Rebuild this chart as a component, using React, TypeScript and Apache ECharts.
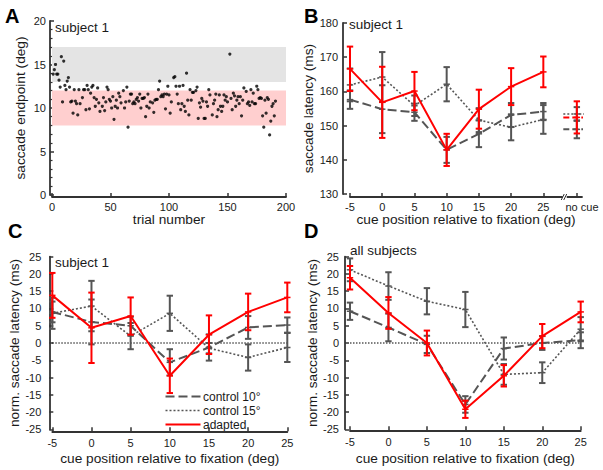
import React, { useEffect, useRef } from "react";
import * as echarts from "echarts";

const FONT = '"Liberation Sans", Arial, Helvetica, sans-serif';
const AXIS = "#333333";
const TEXT = "#1a1a1a";
const GRAY = "#555555";
const RED = "#ff0000";

// ---------- Panel A: saccade endpoints per trial ----------
const trials = [1,2,3,4,5,6,7,8,9,10, 11,12,13,14,15,16,17,18,19,20, 21,22,23,24,26,27,28,29,30,31, 32,33,34,35,36,37,38,39,40,41, 43,44,45,46,47,48,49,50,51,52, 53,54,55,56,57,58,59,61,62,63, 64,65,66,67,68,69,70,71,72,73, 74,75,76,77,78,79,80,81,82,83, 84,86,87,88,89,90,91,92,93,94, 95,96,97,98,99,100,101,102,104,105, 106,107,108,109,110,111,112,113,114,115, 116,117,118,119,120,121,123,124,125,126, 127,128,129,130,131,132,133,134,135,137, 138,139,140,141,142,143,144,145,146,147, 148,149,150,152,153,154,155,156,157,158, 159,160,161,162,163,164,166,167,168,169, 170,171,172,173,174,175,176,177,178,179, 180,181,182,183,184,185,186,187,188,189, 190,191];
const endpoints = [13.9,14.4,15.0,13.9,13.9,13.2,12.4,15.9,10.7,15.4, 12.6,12.1,13.1,13.5,12.4,10.7,10.8,9.4,12.1,10.8, 10.5,9.2,12.1,10.5,11.2,12.1,12.1,9.8,12.6,12.1, 9.9,11.7,12.4,12.6,11.2,10.2,11.0,12.3,10.6,9.6, 10.2,11.2,9.7,10.7,12.4,12.1,11.0,10.8,10.0,11.3, 8.7,10.2,10.9,10.0,11.7,11.3,10.6,12.0,10.0,10.7, 12.4,7.8,10.8,11.6,11.6,10.5,10.7,10.5,11.0,11.2, 10.8,11.6,10.0,11.1,11.1,11.2,9.0,10.2,11.6,10.0, 10.7,10.6,9.5,10.9,11.0,11.0,12.1,13.1,11.3,11.5, 11.3,11.6,9.9,11.6,12.5,11.5,9.4,10.7,13.5,13.6, 12.5,11.6,10.5,12.5,9.8,10.5,12.6,10.2,9.6,14.0, 10.9,9.2,12.1,10.9,11.8,11.8,12.0,12.4,8.8,10.6, 10.1,11.1,10.8,8.8,8.8,10.7,10.2,12.1,11.5,9.2, 10.5,10.9,11.6,9.0,9.8,11.5,10.2,9.6,10.2,11.5, 10.9,11.3,10.7,16.2,11.1,9.8,11.7,11.4,10.2,10.9, 11.3,10.5,11.3,9.1,10.9,12.3,11.9,10.5,10.7,10.3, 12.1,10.7,11.7,10.5,10.5,12.5,12.1,11.1,11.2,11.1, 9.1,7.8,10.9,9.4,11.2,11.0,6.9,8.5,10.2,10.5, 9.1,10.8];
const grayBand = [13, 17];
const pinkBand = [8, 12];

// ---------- Panels B-D: latency vs cue position ----------
const cuePositions = [-5, 0, 5, 10, 15, 20, 25];
const cueTickLabels = ["-5", "0", "5", "10", "15", "20", "25"];

const bAdapted = [166.6, 156.8, 160.1, 142.9, 154.8, 161.4, 165.7];
const bAdaptedErr = [6.5, 10.4, 5.6, 4.7, 5.7, 5.4, 4.5];
const bControl10 = [157.6, 154.8, 153.9, 142.9, 147.6, 153.1, 154.1];
const bControl10Err = [2.7, 7.0, 2.5, 3.8, 3.9, 3.5, 2.5];
const bControl15 = [161.9, 164.2, 155.8, 162.1, 151.6, 149.5, 151.8];
const bControl15Err = [4.8, 7.3, 3.0, 5.0, 3.5, 3.8, 4.2];
// no-cue condition: adapted, control 10°, control 15°
const noCueLabel = "no cue";
const noCueValues = [152.4, 148.9, 153.4];
const noCueErr = [4.7, 2.6, 2.0];

const cAdapted = [13.8, 4.4, 7.8, -9.5, 2.4, 9.0, 13.2];
const cAdaptedErr = [6.5, 10.2, 5.4, 5.0, 5.6, 5.3, 4.3];
const cControl10 = [9.0, 6.1, 5.0, -5.6, -1.3, 4.5, 5.2];
const cControl10Err = [3.0, 6.5, 2.6, 3.8, 3.8, 3.3, 2.2];
const cControl15 = [8.6, 10.7, 2.0, 8.6, -1.5, -4.2, -1.3];
const cControl15Err = [4.5, 7.3, 3.8, 5.1, 1.5, 3.8, 4.2];

const dAdapted = [18.9, 8.7, 0.0, -19.2, -9.5, 2.0, 9.0];
const dAdaptedErr = [3.4, 4.6, 3.6, 2.5, 3.1, 3.5, 3.0];
const dControl10 = [9.2, 4.5, -0.4, -17.8, -1.6, 0.0, 0.8];
const dControl10Err = [2.5, 4.0, 2.5, 2.4, 3.2, 2.0, 2.3];
const dControl15 = [21.2, 16.5, 12.1, 9.7, -9.1, -8.6, 4.0];
const dControl15Err = [3.3, 4.0, 3.8, 5.1, 3.0, 3.0, 3.5];

const zeroLine = [0, 0];

const NAME10 = "control 10°";
const NAME15 = "control 15°";
const NAMEAD = "adapted";
const legendNames = [NAME10, NAME15, NAMEAD];

const DASH = [9, 4];
const DOT = [2, 2];
const legendStyles = [
  { stroke: GRAY, lineWidth: 2, lineDash: DASH },
  { stroke: GRAY, lineWidth: 1.6, lineDash: DOT },
  { stroke: RED, lineWidth: 2 },
];

function pts(values: number[]) {
  return cuePositions.map((x, i) => [x, values[i]]);
}
function errData(values: number[], errs: number[], xs: number[] = cuePositions) {
  return xs.map((x, i) => [x, values[i] - errs[i], values[i] + errs[i], values[i]]);
}

function errSeries(name: string, idx: number, data: number[][], color: string, z: number) {
  return {
    type: "custom",
    name,
    xAxisIndex: idx,
    yAxisIndex: idx,
    clip: false,
    z,
    silent: true,
    encode: { x: 0, y: [1, 2] },
    data,
    renderItem: (params: any, api: any) => {
      const x = api.value(0);
      const top = api.coord([x, api.value(2)]);
      const bot = api.coord([x, api.value(1)]);
      const mid = api.coord([x, api.value(3)]);
      const w = 3.2;
      const st = { stroke: color, lineWidth: 2 };
      return {
        type: "group",
        children: [
          { type: "line", shape: { x1: top[0], y1: top[1], x2: bot[0], y2: bot[1] }, style: st },
          { type: "line", shape: { x1: top[0] - w, y1: top[1], x2: top[0] + w, y2: top[1] }, style: st },
          { type: "line", shape: { x1: bot[0] - w, y1: bot[1], x2: bot[0] + w, y2: bot[1] }, style: st },
          { type: "line", shape: { x1: mid[0] - w, y1: mid[1], x2: mid[0] + w, y2: mid[1] }, style: { stroke: color, lineWidth: 1.5 } },
        ],
      };
    },
  };
}

function lineSeries(name: string, idx: number, data: number[][], color: string, width: number, type: any, z: number) {
  return {
    type: "line",
    name,
    xAxisIndex: idx,
    yAxisIndex: idx,
    data,
    symbol: "none",
    showSymbol: false,
    z,
    silent: true,
    clip: false,
    lineStyle: { color, width, type },
    itemStyle: { color },
  };
}

function panelSeries(idx: number, ad: number[], adE: number[], c10: number[], c10E: number[], c15: number[], c15E: number[]) {
  return [
    lineSeries(NAME15, idx, pts(c15), GRAY, 1.6, DOT, 3),
    lineSeries(NAME10, idx, pts(c10), GRAY, 2, DASH, 3),
    errSeries("err15_" + idx, idx, errData(c15, c15E), GRAY, 4),
    errSeries("err10_" + idx, idx, errData(c10, c10E), GRAY, 4),
    lineSeries(NAMEAD, idx, pts(ad), RED, 2, "solid", 6),
    errSeries("errAd_" + idx, idx, errData(ad, adE), RED, 7),
  ];
}

function axisBase(extra: any) {
  return {
    type: "value",
    nameLocation: "middle",
    axisLine: { show: true, onZero: false, lineStyle: { color: AXIS, width: 1.8 } },
    axisTick: { show: true, inside: true, length: 4, lineStyle: { color: AXIS, width: 1.5 } },
    axisLabel: { color: TEXT, fontSize: 11, fontFamily: FONT, margin: 4 },
    splitLine: { show: false },
    nameTextStyle: { color: TEXT, fontSize: 13.7, fontFamily: FONT },
    ...extra,
  };
}

const XNAME = "cue position relative to fixation (deg)";

export default function App() {
  const ref = useRef<HTMLDivElement>(null);
  useEffect(() => {
    if (!ref.current) return;
    const chart = echarts.init(ref.current, undefined, { renderer: "svg" });
    const noCueX = 30.2;
    const noCueLabelX = 31;
    const breakX = 28.4;
    const segHalfL = 2.1;
    const segHalfR = 1.8;

    // hand-drawn legend for panel C
    const legX = 165.5;
    const legY = 396.5;
    const legStep = 14;
    const legendGraphics: any[] = [];
    legendNames.forEach((n, i) => {
      const y = legY + i * legStep;
      legendGraphics.push({ type: "line", shape: { x1: legX, y1: y, x2: legX + 35, y2: y }, style: legendStyles[i], silent: true });
      legendGraphics.push({ type: "text", x: legX + 37.5, y, style: { text: n, font: `12px ${FONT}`, fill: TEXT, verticalAlign: "middle" }, silent: true });
    });

    const option: any = {
      animation: false,
      backgroundColor: "#ffffff",
      textStyle: { fontFamily: FONT },
      grid: [
        { left: 52, top: 21, width: 234, height: 174 },
        { left: 350, top: 23, width: 232, height: 171 },
        { left: 52.3, top: 256.7, width: 235, height: 172.6 },
        { left: 350, top: 256.7, width: 230.7, height: 172.6 },
      ],
      xAxis: [
        axisBase({ gridIndex: 0, min: 0, max: 200, interval: 50, offset: 2, name: "trial number", nameGap: 15 }),
        axisBase({
          gridIndex: 1,
          min: -5,
          max: 31,
          offset: 3,
          name: XNAME,
          nameGap: 15,
          axisTick: { show: true, inside: true, length: 4, lineStyle: { color: AXIS, width: 1.5 }, customValues: [...cuePositions, noCueX] },
          axisLabel: {
            color: TEXT, fontSize: 11, fontFamily: FONT, margin: 4,
            customValues: [...cuePositions, noCueLabelX],
            formatter: (v: number) => {
              const i = cuePositions.indexOf(v);
              return i >= 0 ? cueTickLabels[i] : v > 30 ? noCueLabel : "";
            },
          },
        }),
        axisBase({ gridIndex: 2, min: -5, max: 25, interval: 5, offset: 2, name: XNAME, nameGap: 20, axisLabel: { color: TEXT, fontSize: 11, fontFamily: FONT, margin: 6 } }),
        axisBase({ gridIndex: 3, min: -5, max: 25, interval: 5, offset: 1, name: XNAME, nameGap: 21, axisLabel: { color: TEXT, fontSize: 11, fontFamily: FONT, margin: 6 } }),
      ],
      yAxis: [
        axisBase({
          gridIndex: 0, min: 0, max: 20, interval: 5, offset: 2,
          name: "saccade endpoint (deg)", nameGap: 23,
          minorTick: { show: true, splitNumber: 5, length: 2.5, lineStyle: { color: AXIS, width: 1.2 } },
        }),
        axisBase({ gridIndex: 1, min: 130, max: 180, interval: 10, offset: 7, name: "saccade latency (ms)", nameGap: 25, axisLabel: { color: TEXT, fontSize: 11, fontFamily: FONT, margin: 5 } }),
        axisBase({ gridIndex: 2, min: -25, max: 25, interval: 5, offset: 3, name: "norm. saccade latency (ms)", nameGap: 27, axisLabel: { color: TEXT, fontSize: 11, fontFamily: FONT, margin: 8 } }),
        axisBase({ gridIndex: 3, min: -25, max: 25, interval: 5, offset: 5, name: "norm. saccade latency (ms)", nameGap: 23, axisLabel: { color: TEXT, fontSize: 11, fontFamily: FONT, margin: 6 } }),
      ],
      graphic: [
        { type: "text", x: 5, y: 15.5, style: { text: "A", font: `bold 20px ${FONT}`, fill: "#000", verticalAlign: "middle" } },
        { type: "text", x: 304, y: 15.5, style: { text: "B", font: `bold 20px ${FONT}`, fill: "#000", verticalAlign: "middle" } },
        { type: "text", x: 8, y: 231, style: { text: "C", font: `bold 20px ${FONT}`, fill: "#000", verticalAlign: "middle" } },
        { type: "text", x: 304, y: 231, style: { text: "D", font: `bold 20px ${FONT}`, fill: "#000", verticalAlign: "middle" } },
        { type: "text", x: 55, y: 27, style: { text: "subject 1", font: `13.5px ${FONT}`, fill: TEXT, verticalAlign: "middle" } },
        { type: "text", x: 349, y: 24, style: { text: "subject 1", font: `13.5px ${FONT}`, fill: TEXT, verticalAlign: "middle" } },
        { type: "text", x: 55, y: 262, style: { text: "subject 1", font: `13.5px ${FONT}`, fill: TEXT, verticalAlign: "middle" } },
        { type: "text", x: 350, y: 250.5, style: { text: "all subjects", font: `13.5px ${FONT}`, fill: TEXT, verticalAlign: "middle" } },
        ...legendGraphics,
      ],
      series: [
        {
          type: "scatter",
          name: "endpoints",
          xAxisIndex: 0,
          yAxisIndex: 0,
          symbolSize: 3.2,
          itemStyle: { color: "#000" },
          silent: true,
          data: trials.map((t, i) => [t, endpoints[i]]),
          markArea: {
            silent: true,
            data: [
              [{ yAxis: grayBand[0], itemStyle: { color: "#e4e4e4" } }, { yAxis: grayBand[1] }],
              [{ yAxis: pinkBand[0], itemStyle: { color: "#ffcfcf" } }, { yAxis: pinkBand[1] }],
            ],
          },
        },
        ...panelSeries(1, bAdapted, bAdaptedErr, bControl10, bControl10Err, bControl15, bControl15Err),
        // no-cue markers (short horizontal segments)
        lineSeries("nc15", 1, [[noCueX - segHalfL, noCueValues[2]], [noCueX + segHalfR, noCueValues[2]]], GRAY, 1.6, DOT, 3),
        lineSeries("nc10", 1, [[noCueX - segHalfL, noCueValues[1]], [noCueX + segHalfR, noCueValues[1]]], GRAY, 2, [6, 3], 3),
        errSeries("ncErr15", 1, [[noCueX, noCueValues[2] - noCueErr[2], noCueValues[2] + noCueErr[2], noCueValues[2]]], GRAY, 4),
        errSeries("ncErr10", 1, [[noCueX, noCueValues[1] - noCueErr[1], noCueValues[1] + noCueErr[1], noCueValues[1]]], GRAY, 4),
        lineSeries("ncAd", 1, [[noCueX - segHalfL, noCueValues[0]], [noCueX + segHalfR, noCueValues[0]]], RED, 2, [6, 3], 6),
        errSeries("ncErrAd", 1, [[noCueX, noCueValues[0] - noCueErr[0], noCueValues[0] + noCueErr[0], noCueValues[0]]], RED, 7),
        {
          type: "custom",
          name: "break",
          xAxisIndex: 1,
          yAxisIndex: 1,
          clip: false,
          silent: true,
          z: 10,
          data: [[breakX, 130]],
          renderItem: (params: any, api: any) => {
            const p = api.coord([api.value(0), api.value(1)]);
            const y = p[1] + 3;
            const st = { stroke: AXIS, lineWidth: 1 };
            return {
              type: "group",
              children: [
                { type: "rect", shape: { x: p[0] - 2.5, y: y - 2, width: 4, height: 4 }, style: { fill: "#fff" } },
                { type: "line", shape: { x1: p[0] - 4, y1: y + 3, x2: p[0] - 1, y2: y - 3 }, style: st },
                { type: "line", shape: { x1: p[0] - 1.5, y1: y + 3, x2: p[0] + 1.5, y2: y - 3 }, style: st },
              ],
            };
          },
        },
        lineSeries("zeroC", 2, [[-5, zeroLine[0]], [25, zeroLine[1]]], "#000", 1, [1.5, 1.5], 2),
        ...panelSeries(2, cAdapted, cAdaptedErr, cControl10, cControl10Err, cControl15, cControl15Err),
        lineSeries("zeroD", 3, [[-5, zeroLine[0]], [25, zeroLine[1]]], "#000", 1, [1.5, 1.5], 2),
        ...panelSeries(3, dAdapted, dAdaptedErr, dControl10, dControl10Err, dControl15, dControl15Err),
      ],
    };
    chart.setOption(option);
    return () => chart.dispose();
  }, []);

  return (
    <div style={{ position: "fixed", left: 0, top: 0, width: 603, height: 470, background: "#fff" }}>
      <div ref={ref} style={{ width: 603, height: 470 }} />
    </div>
  );
}
